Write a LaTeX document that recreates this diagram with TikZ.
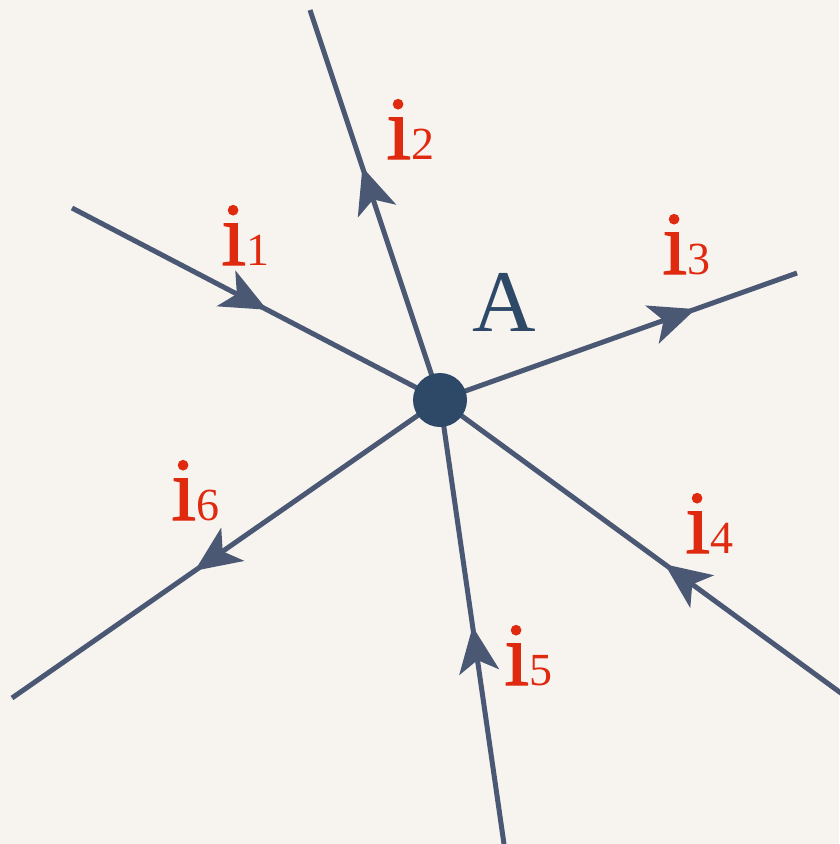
\documentclass[tikz,border=0pt]{standalone}
\usepackage{fontspec}
\setmainfont{Liberation Serif}
\newfontfamily\semib[FakeBold=1.2]{Liberation Serif}
\usetikzlibrary{arrows.meta,decorations.markings}
\definecolor{bgc}{HTML}{F7F4F0}
\definecolor{wirec}{HTML}{4A5874}
\definecolor{nodec}{HTML}{2E4868}
\definecolor{redc}{HTML}{E02A10}
\tikzset{
  wire/.style={draw=wirec, line width=5pt},
  midarrow/.style={wire, postaction={decorate}, decoration={markings,
    mark=at position #1 with {\arrow{Stealth[length=46pt,width=40pt,inset=12pt,color=wirec]}}}},
  curlabel/.style={text=redc, anchor=base west, inner sep=0pt},
  junction/.style={circle, fill=nodec, minimum size=54pt, inner sep=0pt},
}
\newcommand{\curlab}[1]{{\fontsize{90}{90}\semib i}{\fontsize{46}{46}\selectfont #1}}
\begin{document}
\begin{tikzpicture}[x=1pt,y=-1pt]
\fill[bgc] (0,0) rectangle (839,844);
\useasboundingbox (0,0) rectangle (839,844);
\coordinate (e1) at (72,208);
\coordinate (e2) at (310,10);
\coordinate (e3) at (797,273);
\coordinate (e4) at (845,696);
\coordinate (e5) at (504,844);
\coordinate (e6) at (12,698);
\coordinate (c) at (440,400);
\draw[midarrow=0.53] (e1) -- (c);
\draw[midarrow=0.597] (c) -- (e2);
\draw[midarrow=0.716] (c) -- (e3);
\draw[midarrow=0.445] (e4) -- (c);
\draw[midarrow=0.49] (e5) -- (c);
\draw[midarrow=0.573] (c) -- (e6);
\node[junction] (A) at (c) {};
\node[text=nodec, anchor=base, inner sep=0pt] (lblA) at (504,331) {\fontsize{88}{88}\selectfont A};
\node[curlabel] (l1) at (221,265) {\curlab{1}};
\node[curlabel] (l2) at (386,159) {\curlab{2}};
\node[curlabel] (l3) at (662,274) {\curlab{3}};
\node[curlabel] (l4) at (685,553) {\curlab{4}};
\node[curlabel] (l5) at (504,685) {\curlab{5}};
\node[curlabel] (l6) at (171,520) {\curlab{6}};
\end{tikzpicture}
\end{document}
